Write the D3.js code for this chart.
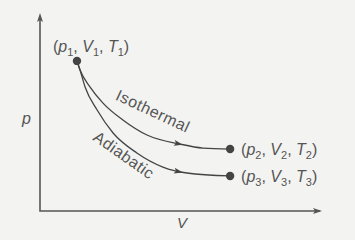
<!DOCTYPE html>
<html><head><meta charset="utf-8">
<script src="https://cdn.jsdelivr.net/npm/d3@7"></script>
<style>
html,body{margin:0;padding:0;background:#f3f3f1;}
svg{display:block;}
text{font-family:"Liberation Sans",Arial,sans-serif;fill:#555;}
</style></head>
<body>
<svg id="c" width="355" height="240"></svg>
<script>
// Data (V, p) in arbitrary units
const isothermalV = [1.32, 1.43, 1.79, 2.25, 2.96, 3.82, 5.00, 5.82, 6.79];
const isothermalP = [7.58, 7.12, 6.26, 5.45, 4.60, 3.84, 3.38, 3.18, 3.13];
const adiabaticV  = [1.32, 1.43, 1.61, 2.04, 2.61, 3.46, 4.39, 5.25, 6.79];
const adiabaticP  = [7.58, 7.12, 6.26, 5.10, 3.94, 2.93, 2.22, 1.92, 1.77];
const stateNames  = ["1", "2", "3"];
const stateV      = [1.32, 6.79, 6.79];
const stateP      = [7.58, 3.13, 1.77];
const curveNames  = ["Isothermal", "Adiabatic"];
const arrowAtV    = [5.0, 5.0];

const svg = d3.select("#c");
const x = d3.scaleLinear().domain([0, 10]).range([40, 320]);
const y = d3.scaleLinear().domain([0, 10]).range([211, 13]);
const ink = "#444";

// axes with arrows
const x0 = x(0), y0 = y(0);
svg.append("path").attr("d", `M${x0},${y(10)+4}V${y0}H${x(10)}`)
  .attr("fill","none").attr("stroke","#555").attr("stroke-width",1.6);
svg.append("path").attr("d", `M${x0},${y(10)} l-3,9 l3,-2 l3,2 z`).attr("fill","#555");
svg.append("path").attr("d", `M${x(10)+2},${y0} l-9,-3 l2,3 l-2,3 z`).attr("fill","#555");

svg.append("text").attr("x", 22).attr("y", 124).attr("font-size", 16)
  .attr("font-style","italic").text("p");
svg.append("text").attr("x", 177).attr("y", 228).attr("font-size", 15)
  .attr("font-style","italic").text("V");

const line = d3.line().x(d => x(d[0])).y(d => y(d[1])).curve(d3.curveMonotoneX);
const curves = [d3.zip(isothermalV, isothermalP), d3.zip(adiabaticV, adiabaticP)];

curves.forEach((pts, i) => {
  const p = svg.append("path").datum(pts).attr("d", line)
    .attr("fill","none").attr("stroke", ink).attr("stroke-width", 1.3);
  // arrowhead along the curve
  const node = p.node(), L = node.getTotalLength();
  const tx = x(arrowAtV[i]);
  let lo = 0, hi = L;
  for (let k = 0; k < 40; k++) { const m = (lo+hi)/2; if (node.getPointAtLength(m).x < tx) lo = m; else hi = m; }
  const a = node.getPointAtLength(lo), b = node.getPointAtLength(Math.max(0, lo-4));
  const ang = Math.atan2(a.y-b.y, a.x-b.x) * 180/Math.PI;
  svg.append("path").attr("d","M3,0 L-6,-3 L-4,0 L-6,3 Z").attr("fill", ink)
    .attr("transform", `translate(${a.x},${a.y}) rotate(${ang})`);
});

// curve labels
const labelPos = [[153, 111, 25], [124, 155, 35]];
curveNames.forEach((n, i) => {
  const [lx, ly, r] = labelPos[i];
  svg.append("text").attr("font-size", 16).attr("text-anchor","middle")
    .attr("letter-spacing", 0.5)
    .attr("transform", `translate(${lx},${ly}) rotate(${r})`).attr("dy", "0.35em").text(n);
});

// state points and labels
const labelOff = [[-24, -9], [11, 6], [11, 6]];
stateNames.forEach((s, i) => {
  const cx = x(stateV[i]), cy = y(stateP[i]);
  svg.append("circle").attr("cx", cx).attr("cy", cy).attr("r", 4.2).attr("fill", ink);
  const t = svg.append("text").attr("x", cx + labelOff[i][0]).attr("y", cy + labelOff[i][1])
    .attr("font-size", 16);
  t.append("tspan").text("(");
  t.append("tspan").attr("font-style","italic").text("p");
  t.append("tspan").attr("font-size", 11).attr("dy", 4).text(s);
  t.append("tspan").attr("dy", -4).text(", ");
  t.append("tspan").attr("font-style","italic").text("V");
  t.append("tspan").attr("font-size", 11).attr("dy", 4).text(s);
  t.append("tspan").attr("dy", -4).text(", ");
  t.append("tspan").attr("font-style","italic").text("T");
  t.append("tspan").attr("font-size", 11).attr("dy", 4).text(s);
  t.append("tspan").attr("dy", -4).text(")");
});
</script>
</body></html>
